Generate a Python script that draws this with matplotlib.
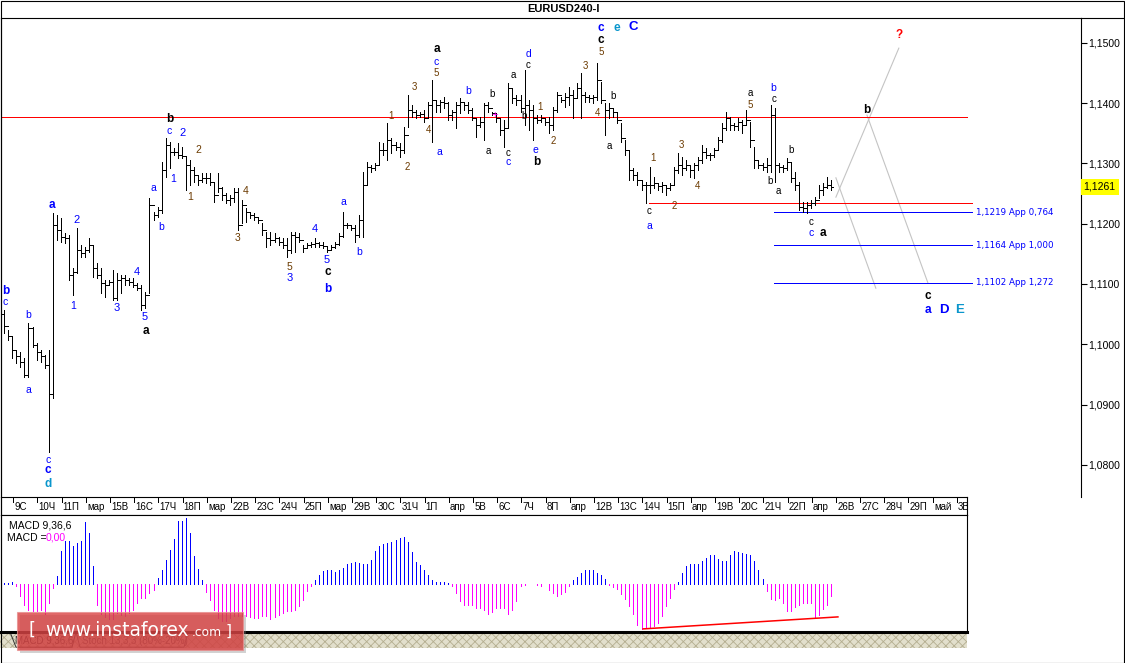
import matplotlib
matplotlib.use('Agg')
import matplotlib.pyplot as plt
import matplotlib.transforms as mtrans
from matplotlib.patches import Rectangle, Polygon
from matplotlib.lines import Line2D
import numpy as np

plt.rcParams['font.family'] = ['Liberation Sans', 'DejaVu Sans']
plt.rcParams['hatch.linewidth'] = 0.6

W, H = 1125, 663
X0, DX = 4.3, 4.033  # pixel of first bar, pixels per bar (layout only)
LW1 = 0.72           # one pixel line width

# ---------------- DATA ----------------
first_open = 1.1050
highs = [1.1057, 1.1024, 1.1014, 1.0990, 1.0987, 1.0977, 1.1035, 1.1029, 1.1002, 1.0990,
         1.0982, 1.0990, 1.1218, 1.1214, 1.1209, 1.1184, 1.1181, 1.1126, 1.1193, 1.1165,
         1.1161, 1.1176, 1.1165, 1.1135, 1.1126, 1.1107, 1.1107,
         1.1123, 1.1118, 1.1115, 1.1115, 1.1110, 1.1110, 1.1102, 1.1098, 1.1087, 1.1243, 1.1219, 1.1228,
         1.1302, 1.1342, 1.1335, 1.1325, 1.1334, 1.1327, 1.1311, 1.1306, 1.1294, 1.1281,
         1.1284, 1.1284, 1.1284, 1.1269, 1.1284, 1.1261, 1.1251, 1.1247, 1.1259, 1.1259,
         1.1239, 1.1226, 1.1219, 1.1218, 1.1211, 1.1201, 1.1186, 1.1186, 1.1184, 1.1178,
         1.1176, 1.1176, 1.1186, 1.1186, 1.1184, 1.1165, 1.1168, 1.1170, 1.1176, 1.1170,
         1.1170, 1.1161, 1.1165, 1.1170, 1.1184, 1.1219, 1.1201,
         1.1198, 1.1198, 1.1214, 1.1286, 1.1302, 1.1297, 1.1301, 1.1335, 1.1334, 1.1367, 1.1342, 1.1335,
         1.1334, 1.1360, 1.1413, 1.1397, 1.1388, 1.1385, 1.1388, 1.1402, 1.1438, 1.1405,
         1.1405, 1.1410, 1.1402, 1.1388, 1.1402, 1.1408, 1.1402, 1.1402, 1.1392, 1.1375,
         1.1377, 1.1400, 1.1402, 1.1385, 1.1383, 1.1375, 1.1372, 1.1433, 1.1425, 1.1413,
         1.1413, 1.1455, 1.1405, 1.1397, 1.1380, 1.1380, 1.1375, 1.1377, 1.1393, 1.1418,
         1.1410, 1.1417, 1.1427, 1.1422, 1.1433, 1.1450, 1.1418, 1.1413, 1.1413, 1.1466,
         1.1435, 1.1400, 1.1400, 1.1392, 1.1383, 1.1367, 1.1339, 1.1322, 1.1292, 1.1286,
         1.1272, 1.1269, 1.1294, 1.1277, 1.1267, 1.1269, 1.1264, 1.1267, 1.1294, 1.1317,
         1.1311, 1.1306, 1.1297, 1.1301, 1.1311, 1.1330, 1.1325, 1.1317, 1.1325, 1.1344,
         1.1367, 1.1385, 1.1377, 1.1367, 1.1375, 1.1372, 1.1388, 1.1369, 1.1327, 1.1306,
         1.1301, 1.1309, 1.1397, 1.1392, 1.1301, 1.1297, 1.1309, 1.1301, 1.1286, 1.1269,
         1.1236, 1.1236, 1.1239, 1.1244, 1.1264, 1.1267, 1.1277, 1.1272]
lows = [1.1019, 1.1007, 1.0977, 1.0969, 1.0962, 1.0946, 1.0946, 1.0995, 1.0974, 1.0971,
        1.0961, 1.0821, 1.0911, 1.1173, 1.1170, 1.1168, 1.1107, 1.1082, 1.1118, 1.1145,
        1.1145, 1.1153, 1.1112, 1.1110, 1.1085, 1.1078, 1.1098,
        1.1073, 1.1073, 1.1085, 1.1098, 1.1098, 1.1095, 1.1090, 1.1057, 1.1060, 1.1085, 1.1206, 1.1211,
        1.1218, 1.1277, 1.1292, 1.1314, 1.1309, 1.1309, 1.1256, 1.1264, 1.1269, 1.1264,
        1.1269, 1.1267, 1.1264, 1.1236, 1.1252, 1.1239, 1.1234, 1.1231, 1.1236, 1.1189,
        1.1201, 1.1203, 1.1209, 1.1206, 1.1201, 1.1181, 1.1161, 1.1165, 1.1170, 1.1165,
        1.1160, 1.1145, 1.1151, 1.1153, 1.1170, 1.1153, 1.1160, 1.1161, 1.1161, 1.1161,
        1.1160, 1.1153, 1.1156, 1.1160, 1.1165, 1.1178, 1.1193,
        1.1189, 1.1170, 1.1178, 1.1178, 1.1264, 1.1286, 1.1289, 1.1297, 1.1314, 1.1306, 1.1317, 1.1322,
        1.1311, 1.1317, 1.1360, 1.1377, 1.1375, 1.1377, 1.1369, 1.1375, 1.1335, 1.1385,
        1.1385, 1.1392, 1.1372, 1.1372, 1.1359, 1.1383, 1.1388, 1.1383, 1.1372, 1.1344,
        1.1360, 1.1339, 1.1385, 1.1380, 1.1369, 1.1347, 1.1327, 1.1359, 1.1400, 1.1397,
        1.1385, 1.1364, 1.1355, 1.1339, 1.1367, 1.1369, 1.1364, 1.1350, 1.1355, 1.1385,
        1.1402, 1.1393, 1.1397, 1.1375, 1.1410, 1.1375, 1.1402, 1.1402, 1.1400, 1.1405,
        1.1400, 1.1347, 1.1375, 1.1377, 1.1367, 1.1335, 1.1314, 1.1272, 1.1272, 1.1264,
        1.1256, 1.1234, 1.1251, 1.1259, 1.1256, 1.1252, 1.1247, 1.1256, 1.1264, 1.1284,
        1.1281, 1.1289, 1.1277, 1.1276, 1.1289, 1.1301, 1.1309, 1.1306, 1.1311, 1.1322,
        1.1335, 1.1355, 1.1355, 1.1355, 1.1355, 1.1350, 1.1364, 1.1327, 1.1292, 1.1292,
        1.1289, 1.1286, 1.1286, 1.1269, 1.1286, 1.1286, 1.1289, 1.1269, 1.1256, 1.1223,
        1.1219, 1.1218, 1.1226, 1.1231, 1.1243, 1.1247, 1.1259, 1.1256]
closes = [1.1030, 1.1014, 1.0990, 1.0981, 1.0971, 1.0949, 1.1027, 1.0999, 1.0987, 1.0981,
          1.0966, 1.0918, 1.1198, 1.1189, 1.1178, 1.1176, 1.1115, 1.1120, 1.1156, 1.1151,
          1.1156, 1.1165, 1.1126, 1.1115, 1.1102, 1.1098, 1.1103,
          1.1077, 1.1107, 1.1110, 1.1107, 1.1103, 1.1098, 1.1093, 1.1065, 1.1082, 1.1231, 1.1214, 1.1223,
          1.1289, 1.1330, 1.1319, 1.1319, 1.1314, 1.1312, 1.1297, 1.1289, 1.1281, 1.1272,
          1.1276, 1.1276, 1.1269, 1.1247, 1.1259, 1.1247, 1.1239, 1.1243, 1.1252, 1.1198,
          1.1231, 1.1219, 1.1214, 1.1211, 1.1206, 1.1189, 1.1176, 1.1173, 1.1176, 1.1170,
          1.1165, 1.1156, 1.1181, 1.1178, 1.1173, 1.1160, 1.1165, 1.1166, 1.1168, 1.1165,
          1.1163, 1.1156, 1.1161, 1.1166, 1.1180, 1.1198, 1.1198,
          1.1193, 1.1181, 1.1206, 1.1264, 1.1294, 1.1292, 1.1297, 1.1322, 1.1322, 1.1339, 1.1330, 1.1327,
          1.1322, 1.1347, 1.1388, 1.1385, 1.1380, 1.1382, 1.1375, 1.1397, 1.1405, 1.1397,
          1.1402, 1.1400, 1.1380, 1.1385, 1.1397, 1.1402, 1.1397, 1.1388, 1.1375, 1.1364,
          1.1369, 1.1397, 1.1392, 1.1383, 1.1375, 1.1355, 1.1359, 1.1425, 1.1408, 1.1405,
          1.1392, 1.1397, 1.1388, 1.1375, 1.1372, 1.1375, 1.1369, 1.1364, 1.1388, 1.1413,
          1.1405, 1.1410, 1.1413, 1.1408, 1.1425, 1.1413, 1.1410, 1.1408, 1.1410, 1.1438,
          1.1405, 1.1388, 1.1392, 1.1385, 1.1372, 1.1342, 1.1322, 1.1289, 1.1281, 1.1272,
          1.1264, 1.1264, 1.1264, 1.1267, 1.1262, 1.1264, 1.1259, 1.1264, 1.1289, 1.1297,
          1.1292, 1.1297, 1.1289, 1.1297, 1.1306, 1.1319, 1.1314, 1.1314, 1.1322, 1.1339,
          1.1359, 1.1375, 1.1364, 1.1362, 1.1369, 1.1364, 1.1372, 1.1339, 1.1306, 1.1297,
          1.1294, 1.1297, 1.1380, 1.1297, 1.1294, 1.1292, 1.1302, 1.1276, 1.1264, 1.1228,
          1.1226, 1.1231, 1.1234, 1.1239, 1.1256, 1.1261, 1.1264, 1.1261]

# MACD(9,36,6) histogram, in pips
macd = [0.5, 0.5, 1, -1, -6, -10.5, -13, -13.5, -13.5, -13,
        -15, -9.5, -2, 4, 16.5, 21.5, 21.5, 19, 20.5, 21.5,
        31, 25.5, 9, -10.5, -15, -16.5, -17.5, -17.5, -14.5, -15.5,
        -16, -14.5, -13, -9.5, -7, -7, -4.5, -3, 3, 7,
        12, 17, 22.5, 31.5, 31.5, 33, 25.5, 14, 7.5, 2,
        -4, -8, -13, -17, -18.5, -18.5, -17, -16, -16, -16,
        -16, -16.5, -17, -17, -16, -16, -17.5, -16.5, -15.5, -14.5,
        -13.5, -13.5, -13, -11, -8, -3.5, -1, 2, 4.5, 6.5,
        7, 7, 6, 7, 8, 10, 10.5, 11, 10.5, 10,
        10, 12, 16.5, 19, 20, 20.5, 21, 22, 23, 23.5,
        21, 16, 11, 9.5, 7, 4.5, 2, 1, 1, 1,
        0.5, -1, -4.5, -8.5, -10.5, -10.5, -10.5, -12, -12, -13,
        -15, -14, -12, -12, -12, -15, -13, -8.5, -1, -0.5,
        0, 0, -0.5, -1, 0, -3, -4.5, -6,
        -5, -4, -1, 2, 3.5, 5.5, 7, 7, 7, 5.5,
        4.5, 2.5, -0.5, -1.5, -2.5, -5, -7.5, -11, -15, -20.5,
        -22.5, -22, -21.5, -21, -19.5, -16, -11, -7, -2.5, 1,
        5.5, 9, 10, 10, 10, 11.5, 13, 14.5, 14.5, 12.5,
        11.5, 11.5, 14.5, 16.5, 16, 15.5, 15, 14.5, 11.5, 7,
        2.5, -3.5, -7.5, -8, -7, -9.5, -13.5, -13.5, -11.5, -10.5,
        -9.5, -9.5, -9.5, -17, -15.5, -12.5, -10.5, -6]
macd_trend_x = [158.4, 206.7]
macd_trend_y = [-22.3, -16.3]

date_labels = ['9С', '10Ч', '11П', 'мар', '15В', '16С', '17Ч', '18П', 'мар', '22В',
               '23С', '24Ч', '25П', 'мар', '29В', '30С', '31Ч', '1П', 'апр', '5В',
               '6С', '7Ч', '8П', 'апр', '12В', '13С', '14Ч', '15П', 'апр', '19В',
               '20С', '21Ч', '22П', 'апр', '26В', '27С', '28Ч', '29П', 'май', '3В']
first_label_bar = 2.2
bars_per_label = 6

price_ticks = [1.08, 1.09, 1.10, 1.11, 1.12, 1.13, 1.14, 1.15]
last_price = 1.1261

red_level_1 = 1.1377
red_level_2 = 1.1234
red_level_2_start = 159.9
fib_levels = [1.1219, 1.1164, 1.1102]
fib_texts = ['1,1219 App 0,764', '1,1164 App 1,000', '1,1102 App 1,272']
fib_start, fib_end = 190.9, 240.0

proj_lines = [((206.2, 1.1244), (221.8, 1.1491)),
              ((213.9, 1.1380), (229.0, 1.1102)),
              ((206.2, 1.1276), (216.1, 1.1093))]

B, K, O, C, R, M = '#0000ff', '#000000', '#6b3a00', '#0a96cc', '#ff0000', '#ff00ff'
# (text, bar, price, color, bold, size)
waves = [
    ('b', 0.3, 1.1088, B, True, 8.5), ('c', 0.3, 1.1070, B, False, 7.5),
    ('b', 5.9, 1.1049, B, False, 7.5), ('a', 5.9, 1.0924, B, False, 7.5),
    ('c', 10.8, 1.0808, B, False, 7.5), ('c', 10.8, 1.0792, B, True, 8.5), ('d', 10.8, 1.0768, C, True, 8.5),
    ('a', 11.8, 1.1231, B, True, 8.5), ('2', 18.0, 1.1206, B, False, 8), ('1', 17.0, 1.1063, B, False, 7.5),
    ('3', 27.9, 1.1060, B, False, 8), ('4', 32.9, 1.1120, B, False, 8), ('5', 34.9, 1.1045, B, False, 8),
    ('a', 35.1, 1.1022, K, True, 8.5),
    ('a', 36.9, 1.1259, B, False, 7.5), ('b', 38.9, 1.1194, B, False, 7.5), ('c', 40.8, 1.1354, B, False, 7.5),
    ('b', 41.1, 1.1374, K, True, 8.5), ('2', 44.1, 1.1350, B, False, 8), ('1', 41.8, 1.1274, B, False, 7.5),
    ('2', 48.0, 1.1322, O, False, 7.5), ('1', 46.0, 1.1244, O, False, 7.5),
    ('4', 59.9, 1.1254, O, False, 7.5), ('3', 57.9, 1.1176, O, False, 7.5),
    ('5', 70.8, 1.1128, O, False, 7.5), ('3', 70.8, 1.1110, B, False, 8),
    ('4', 77.0, 1.1191, B, False, 8), ('5', 80.0, 1.1140, B, False, 8),
    ('c', 80.3, 1.1120, K, True, 8.5), ('b', 80.3, 1.1092, B, True, 8.5),
    ('a', 84.0, 1.1236, B, False, 7.5), ('b', 88.0, 1.1153, B, False, 7.5),
    ('1', 95.9, 1.1378, O, False, 7), ('2', 99.9, 1.1294, O, False, 7),
    ('3', 101.8, 1.1427, O, False, 7), ('4', 105.1, 1.1355, O, False, 7),
    ('5', 107.0, 1.1450, O, False, 7), ('c', 107.0, 1.1468, B, False, 7.5),
    ('a', 107.3, 1.1490, K, True, 8.5), ('a', 108.0, 1.1319, B, False, 7.5),
    ('b', 115.0, 1.1420, B, False, 7.5), ('b', 120.9, 1.1415, K, False, 7),
    ('a', 119.9, 1.1320, K, False, 7), ('+', 121.7, 1.1380, M, False, 8),
    ('a', 126.1, 1.1446, K, False, 7), ('c', 124.9, 1.1317, K, False, 7), ('c', 124.9, 1.1302, B, False, 7.5),
    ('d', 129.9, 1.1481, B, False, 7.5), ('c', 129.9, 1.1463, K, False, 7), ('b', 128.9, 1.1378, K, False, 7),
    ('e', 131.8, 1.1322, B, False, 7.5), ('b', 132.1, 1.1302, K, True, 8.5),
    ('1', 132.8, 1.1393, O, False, 7), ('2', 136.1, 1.1337, O, False, 7), ('3', 144.0, 1.1461, O, False, 7),
    ('c', 148.0, 1.1524, B, True, 8.5), ('c', 148.0, 1.1505, K, True, 8.5), ('5', 148.0, 1.1485, O, False, 7),
    ('e', 151.9, 1.1524, C, True, 8.5), ('C', 155.9, 1.1526, B, True, 9.5),
    ('4', 147.0, 1.1383, O, False, 7), ('b', 150.9, 1.1412, K, False, 7), ('a', 149.9, 1.1329, K, False, 7),
    ('c', 159.9, 1.1221, K, False, 7), ('a', 159.9, 1.1196, B, False, 7.5), ('2', 166.1, 1.1229, O, False, 7),
    ('1', 160.9, 1.1309, O, False, 7), ('3', 168.0, 1.1330, O, False, 7), ('4', 172.0, 1.1262, O, False, 7),
    ('a', 184.9, 1.1417, K, False, 7), ('5', 184.9, 1.1397, O, False, 7), ('b', 189.9, 1.1271, K, False, 7),
    ('b', 190.6, 1.1425, B, False, 7.5), ('c', 190.9, 1.1407, K, False, 7), ('a', 191.8, 1.1254, K, False, 7),
    ('b', 195.1, 1.1322, K, False, 7), ('c', 200.0, 1.1203, K, False, 7), ('c', 200.0, 1.1184, B, False, 7.5),
    ('a', 203.0, 1.1184, K, True, 8.5), ('b', 213.9, 1.1388, K, True, 8.5), ('?', 221.8, 1.1513, R, True, 8.5),
    ('c', 229.0, 1.1080, K, True, 8.5), ('a', 229.0, 1.1057, B, True, 8.5),
    ('D', 233.0, 1.1057, B, True, 9.5), ('E', 236.9, 1.1057, C, True, 9.5),
]

# ---------------- LAYOUT HELPERS ----------------
def rect(x0, y0, x1, y1):
    return [x0 / W, 1 - y1 / H, (x1 - x0) / W, (y1 - y0) / H]

def px2bar(px):
    return (px - X0) / DX

fig = plt.figure(figsize=(W / 100, H / 100), dpi=100)
fig.patch.set_facecolor('white')

# ---------------- MAIN PRICE PANEL ----------------
ax = fig.add_axes(rect(1, 18, 1081, 497))
ax.set_facecolor('white')
ax.set_xlim(px2bar(1), px2bar(1081))
ax.set_ylim(1.07468, 1.15410)
for s in ['left', 'top', 'right']:
    ax.spines[s].set_linewidth(0.8)
    ax.spines[s].set_color('black')
ax.spines['bottom'].set_visible(False)
ax.set_xticks([])
ax.yaxis.tick_right()
ax.set_yticks(price_ticks)
ax.set_yticklabels([f'{v:.4f}'.replace('.', ',') for v in price_ticks])
ax.tick_params(axis='y', direction='out', length=4, width=0.8, pad=1, labelsize=7.5)

idx = np.arange(len(closes))
opens = [first_open] + closes[:-1]
ax.vlines(idx, lows, highs, color='black', lw=LW1, antialiased=False, zorder=3)
ax.hlines(opens, idx - 0.55, idx, color='black', lw=LW1, antialiased=False, zorder=3)
ax.hlines(closes, idx, idx + 0.55, color='black', lw=LW1, antialiased=False, zorder=3)

ax.hlines(red_level_1, px2bar(0), px2bar(967), color='red', lw=LW1, antialiased=False, zorder=2)
ax.hlines(red_level_2, red_level_2_start, px2bar(972), color='red', lw=LW1, antialiased=False, zorder=2)
for lv, tx in zip(fib_levels, fib_texts):
    ax.hlines(lv, fib_start, fib_end, color='#0000ff', lw=LW1, antialiased=False, zorder=2)
    ax.text(fib_end + 1.0, lv, tx, color='#0000ff', fontsize=6.3, ha='left', va='center',
            family=['DejaVu Sans'])
for (xa, ya), (xb, yb) in proj_lines:
    ax.plot([xa, xb], [ya, yb], color='#c4c4c4', lw=0.8, zorder=1)

for t, b, p, col, bold, sz in waves:
    ax.text(b, p, t, color=col, fontsize=sz, fontweight='bold' if bold else 'normal',
            ha='center', va='center', zorder=5)

bt = mtrans.blended_transform_factory(ax.transAxes, ax.transData)
ax.text(1.0025, last_price, f'{last_price:.4f}'.replace('.', ','), transform=bt, fontsize=7.5,
        ha='left', va='center', bbox=dict(facecolor='#ffff00', edgecolor='none', pad=2.2))

# ---------------- DATE LABEL ROW ----------------
axl = fig.add_axes(rect(1, 497, 967, 515))
axl.set_xlim(px2bar(1), px2bar(967))
axl.set_ylim(0, 1)
axl.set_xticks([]); axl.set_yticks([])
for s in axl.spines.values():
    s.set_linewidth(0.8)
tick_pos = [first_label_bar + bars_per_label * k for k in range(len(date_labels))]
axl.vlines(tick_pos, 0.74, 1, color='black', lw=LW1, antialiased=False)
for tp, lab in zip(tick_pos, date_labels):
    axl.text(tp + 0.3, 0.42, lab, ha='left', va='center', fontsize=7, clip_on=True)

# ---------------- MACD PANEL ----------------
axm = fig.add_axes(rect(1, 515, 967, 632))
axm.set_xlim(px2bar(1), px2bar(967))
axm.set_ylim(-23.85, 34.65)
axm.set_xticks([]); axm.set_yticks([])
for s in axm.spines.values():
    s.set_linewidth(0.8)
mv = np.array(macd)
cols = ['#0000ff' if v > 0 else '#ff00ff' for v in mv]
axm.vlines(idx, 0, mv, colors=cols, lw=LW1, antialiased=False)
axm.plot(macd_trend_x, macd_trend_y, color='red', lw=1.1)
fig.text(9 / W, 1 - 525 / H, 'MACD 9,36,6', fontsize=7.5, ha='left', va='center')
fig.text(7 / W, 1 - 538 / H, 'MACD =', fontsize=7.5, ha='left', va='center')
fig.text(46 / W, 1 - 538 / H, '0,00', fontsize=7.5, ha='left', va='center', color='#ff00ff')

# ---------------- BOTTOM HATCHED STRIP ----------------
axs = fig.add_axes(rect(0, 632, 967, 648))
axs.set_xlim(0, 1); axs.set_ylim(0, 1)
axs.set_xticks([]); axs.set_yticks([])
axs.set_facecolor('#e2dfcc')
axs.add_patch(Rectangle((0, 0), 1, 1, facecolor='#e2dfcc', edgecolor='#b4ae90', hatch='xxxx', lw=0))
for s in ['left', 'right', 'bottom']:
    axs.spines[s].set_visible(False)
axs.spines['top'].set_linewidth(2.2)
axs.add_patch(Polygon([(10 / 967, 1), (16 / 967, 0.05), (72 / 967, 0.05), (76 / 967, 1)],
                      closed=False, fill=False, edgecolor='#333333', lw=0.7))
axs.text(15 / 967, 0.45, 'MACD 9,36,6', fontsize=7, ha='left', va='center', color='#333333')
axs.add_patch(Polygon([(76 / 967, 1), (80 / 967, 0.05), (184 / 967, 0.05), (188 / 967, 1)],
                      closed=False, fill=False, edgecolor='#555555', lw=0.7))
axs.text(82 / 967, 0.45, 'Stoch 13,3,3 (80%-20%)', fontsize=7, ha='left', va='center', color='#555555')

# ---------------- FRAME / TITLE ----------------
fig.add_artist(Rectangle((0.5 / W, 0.5 / H), (W - 1.5) / W, (H - 1.5) / H, fill=False,
                         edgecolor='black', lw=0.8, transform=fig.transFigure))
fig.add_artist(Line2D([1081 / W, 1124 / W], [1 - 18 / H, 1 - 18 / H], color='black', lw=0.8,
                      transform=fig.transFigure))
fig.text(563 / W, 1 - 9 / H, 'EURUSD240-I', fontsize=8, fontweight='bold', ha='center', va='center')

# ---------------- LOGO ----------------
fig.add_artist(Rectangle((20 / W, 1 - 653 / H), 226 / W, 38 / H, facecolor='#808080', alpha=0.35,
                         edgecolor='none', transform=fig.transFigure))
fig.add_artist(Rectangle((17 / W, 1 - 650 / H), 226 / W, 38 / H, facecolor='#d83c3c', alpha=0.78,
                         edgecolor='#e89090', lw=0.8, transform=fig.transFigure))
fig.text(29 / W, 1 - 630 / H, '[', fontsize=13, color='white', ha='left', va='center',
         family=['DejaVu Sans'])
fig.text(45 / W, 1 - 630 / H, 'www.instaforex', fontsize=13.5, color='white', ha='left', va='center',
         family=['DejaVu Sans'])
fig.text(192 / W, 1 - 633 / H, '.com', fontsize=8.8, color='white', ha='left', va='center',
         family=['DejaVu Sans'])
fig.text(226 / W, 1 - 631 / H, ']', fontsize=11, color='white', ha='left', va='center',
         family=['DejaVu Sans'])

fig.savefig('out.png', dpi=100, facecolor='white')
